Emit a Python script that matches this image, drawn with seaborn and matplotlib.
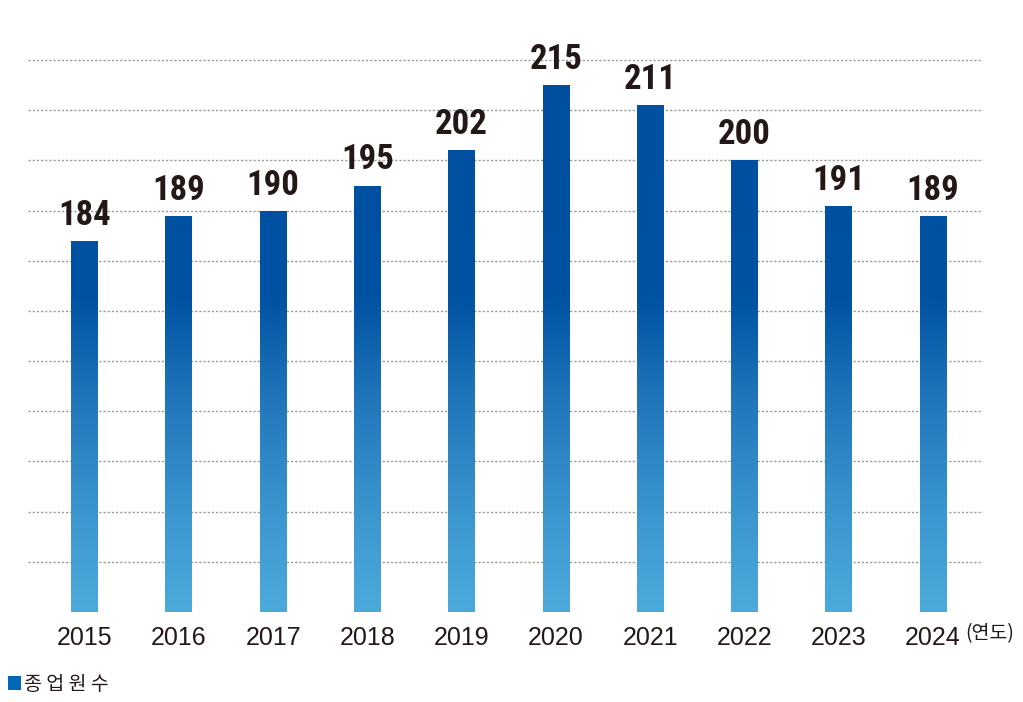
import numpy as np
import pandas as pd
import matplotlib
matplotlib.use("Agg")
import matplotlib.pyplot as plt
import seaborn as sns
from matplotlib import font_manager
from matplotlib.colors import LinearSegmentedColormap
from matplotlib.patches import Rectangle

years = ["2015", "2016", "2017", "2018", "2019", "2020", "2021", "2022", "2023", "2024"]
employees = [184, 189, 190, 195, 202, 215, 211, 200, 191, 189]
legend_label = "종 업 원 수"
unit_label = "(연도)"

df = pd.DataFrame({"year": years, "employees": employees})

sns.set_theme(style="white")
plt.rcParams["font.family"] = ["Liberation Sans", "Noto Sans CJK KR", "DejaVu Sans"]

names = {f.name for f in font_manager.fontManager.ttflist}
cond_family = None
for cand in ["Liberation Sans Narrow", "DejaVu Sans Condensed", "Roboto Condensed", "Open Sans Condensed"]:
    if cand in names:
        cond_family = cand
        break

fig = plt.figure(figsize=(10.23, 7.02), dpi=100)
ax = fig.add_axes([28 / 1023, 1 - 612 / 702, (983 - 28) / 1023, (612 - 40) / 702])

sns.barplot(data=df, x="year", y="employees", width=0.283, ax=ax, color="#004FA0",
            saturation=1, errorbar=None)

y0, y1 = 110, 224
ax.set_ylim(y0, y1)

grid_vals = np.arange(120, 221, 10)
for g in grid_vals:
    ax.axhline(g, color="#9a9a9a", lw=1.0, ls=(0, (1.6, 1.4)), zorder=0)

cmap = LinearSegmentedColormap.from_list(
    "grad",
    [(0.0, "#4CAADB"), (0.18, "#3A95CE"), (0.36, "#2378BC"), (0.55, "#0052A2"), (1.0, "#004EA0")],
)
grad = np.linspace(0, 1, 256).reshape(-1, 1)
for p in ax.patches:
    x0 = p.get_x()
    w = p.get_width()
    p.set_facecolor("none")
    p.set_edgecolor("none")
    im = ax.imshow(grad, cmap=cmap, origin="lower", aspect="auto",
                   extent=(x0, x0 + w, y0, y1), zorder=2)
    im.set_clip_path(p)

for i, v in enumerate(employees):
    kw = dict(ha="center", va="bottom", fontsize=25, fontweight="bold", color="#231815", zorder=5)
    if cond_family:
        kw["family"] = cond_family
    ax.text(i, v + 1.8, str(v), **kw)

ax.set_xlim(-0.6, 9.53)
ax.set_xlabel("")
ax.set_ylabel("")
ax.set_yticks([])
ax.tick_params(axis="x", length=0, pad=10, labelsize=18, labelcolor="#231815")
for s in ax.spines.values():
    s.set_visible(False)

fig.text(965 / 1023, 1 - 634 / 702, unit_label, ha="left", va="center",
         fontsize=14, color="#231815", family=["Noto Sans CJK KR", "DejaVu Sans"])

fig.patches.append(Rectangle((8 / 1023, 1 - 690 / 702), 13 / 1023, 14 / 702,
                             transform=fig.transFigure, facecolor="#0068B7", edgecolor="none"))
fig.text(24 / 1023, 1 - 684 / 702, legend_label, fontsize=14, color="#231815", va="center", ha="left",
         family=["Noto Sans CJK KR", "DejaVu Sans"])

fig.savefig("out.png", dpi=100)
